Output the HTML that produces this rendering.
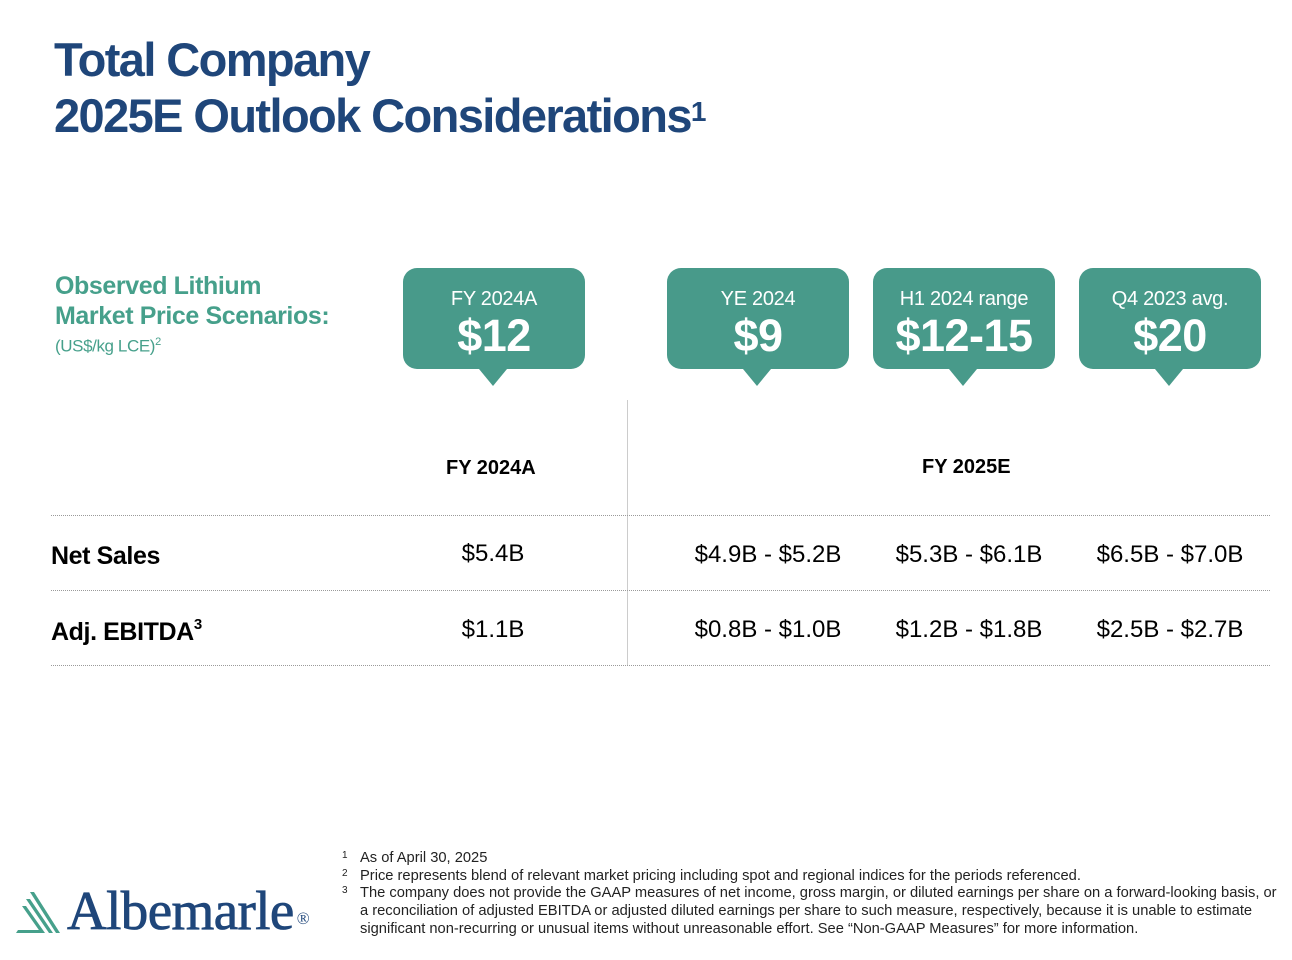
<!DOCTYPE html>
<html><head><meta charset="utf-8"><style>
*{margin:0;padding:0;box-sizing:border-box}
body{width:1292px;height:960px;background:#fff;font-family:"Liberation Sans",Arial,sans-serif;position:relative;overflow:hidden}
.a{position:absolute}
.title{left:54px;top:32px;color:#1f467a;font-weight:bold;font-size:47px;line-height:56px;letter-spacing:-1.6px}
.title sup{font-size:28px;vertical-align:top;position:relative;top:-4px;letter-spacing:0}
.obs{left:55px;top:271px;color:#46a08b;font-weight:bold;font-size:25px;line-height:30px;letter-spacing:-0.4px}
.obs small{font-weight:normal;font-size:17px;display:block;line-height:22px}
.box{width:182px;height:101px;top:268px;background:#489a8a;border-radius:14px;color:#fff;text-align:center}
.box:after{content:"";position:absolute;left:76px;bottom:-17px;border-left:14px solid transparent;border-right:14px solid transparent;border-top:17px solid #489a8a}
.box .l{font-size:20px;margin-top:19px;line-height:24px;letter-spacing:-0.3px}
.box .v{font-size:45px;font-weight:bold;line-height:50px;letter-spacing:-0.5px}
.hd{font-weight:bold;font-size:20px;top:457px}
.dot{left:51px;width:1219px;border-top:1.5px dotted #9a9a9a}
.rl{left:51px;font-weight:bold;font-size:25px;color:#000;letter-spacing:-0.4px}
.rl sup{font-size:15px;vertical-align:top;position:relative;top:-2px}
.c{font-size:24px;width:190px;text-align:center;color:#000}
.fn{left:342px;top:850px;font-size:14.7px;line-height:17.7px;color:#222;width:950px}
.fn div{padding-left:18px;position:relative}
.fn sup{position:absolute;left:0;top:-3px;font-size:10px}
</style></head><body>
<div class="a title">Total Company<br>2025E Outlook Considerations<sup>1</sup></div>
<div class="a obs">Observed Lithium<br>Market Price Scenarios:<small>(US$/kg LCE)<sup style="font-size:11px">2</sup></small></div>
<div class="a box" style="left:403px"><div class="l">FY 2024A</div><div class="v">$12</div></div>
<div class="a box" style="left:667px"><div class="l">YE 2024</div><div class="v">$9</div></div>
<div class="a box" style="left:873px"><div class="l">H1 2024 range</div><div class="v">$12-15</div></div>
<div class="a box" style="left:1079px"><div class="l">Q4 2023 avg.</div><div class="v">$20</div></div>
<div class="a" style="left:627px;top:400px;height:265px;border-left:1px solid #ccc"></div>
<div class="a hd" style="left:446px">FY 2024A</div>
<div class="a hd" style="left:922px;top:456px">FY 2025E</div>
<div class="a dot" style="top:515px"></div>
<div class="a dot" style="top:590px"></div>
<div class="a dot" style="top:665px"></div>
<div class="a rl" style="top:542px">Net Sales</div>
<div class="a c" style="left:398px;top:540px">$5.4B</div>
<div class="a c" style="left:673px;top:541px">$4.9B - $5.2B</div>
<div class="a c" style="left:874px;top:541px">$5.3B - $6.1B</div>
<div class="a c" style="left:1075px;top:541px">$6.5B - $7.0B</div>
<div class="a rl" style="top:618px">Adj. EBITDA<sup>3</sup></div>
<div class="a c" style="left:398px;top:616px">$1.1B</div>
<div class="a c" style="left:673px;top:616px">$0.8B - $1.0B</div>
<div class="a c" style="left:874px;top:616px">$1.2B - $1.8B</div>
<div class="a c" style="left:1075px;top:616px">$2.5B - $2.7B</div>
<svg class="a" style="left:16px;top:890px" width="46" height="45">
<g fill="#46a08b"><polygon points="14,2 18,2 44,43 40,43"/><polygon points="10,9 14,9 37,43 33,43"/><polygon points="6,16 10,16 29,43 25,43"/><polygon points="2,40 26,40 27,43 0,43"/></g></svg>
<div class="a" style="left:67px;top:879px;font-family:'Liberation Serif',serif;font-size:55px;color:#1f467a;letter-spacing:-0.6px;line-height:64px;-webkit-text-stroke:0.8px #1f467a">Albemarle<span style="font-size:17px;vertical-align:top;position:relative;top:8px;left:3px;-webkit-text-stroke:0">®</span></div>
<div class="a fn">
<div><sup>1</sup>As of April 30, 2025</div>
<div><sup>2</sup>Price represents blend of relevant market pricing including spot and regional indices for the periods referenced.</div>
<div><sup>3</sup>The company does not provide the GAAP measures of net income, gross margin, or diluted earnings per share on a forward-looking basis, or<br>a reconciliation of adjusted EBITDA or adjusted diluted earnings per share to such measure, respectively, because it is unable to estimate<br>significant non-recurring or unusual items without unreasonable effort. See “Non-GAAP Measures” for more information.</div>
</div>
</body></html>
